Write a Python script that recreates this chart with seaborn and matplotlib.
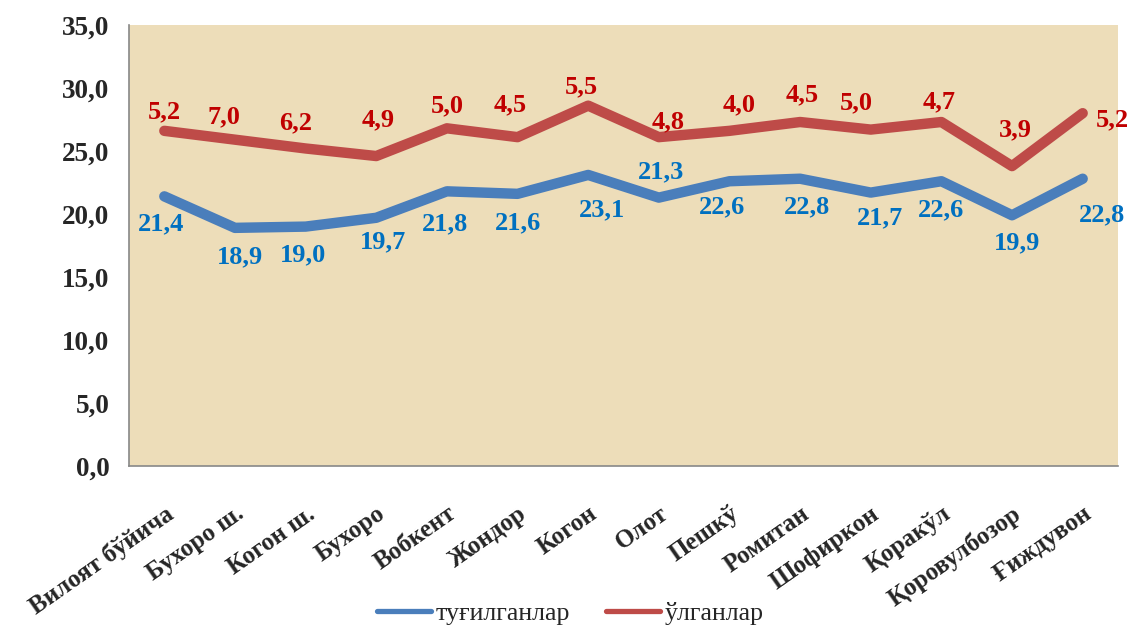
import matplotlib
matplotlib.use("Agg")
import matplotlib.pyplot as plt
import numpy as np
import pandas as pd
import seaborn as sns

districts = ["Вилоят бўйича", "Бухоро ш.", "Когон ш.", "Бухоро", "Вобкент", "Жондор", "Когон",
             "Олот", "Пешкў", "Ромитан", "Шофиркон", "Қоракўл", "Қоровулбозор", "Ғиждувон"]
births = [21.4, 18.9, 19.0, 19.7, 21.8, 21.6, 23.1, 21.3, 22.6, 22.8, 21.7, 22.6, 19.9, 22.8]
deaths = [5.2, 7.0, 6.2, 4.9, 5.0, 4.5, 5.5, 4.8, 4.0, 4.5, 5.0, 4.7, 3.9, 5.2]

# label offsets in pixels (dx, dy down)
births_off = [(-3, 27), (5, 29), (-3, 28), (7, 24), (-2, 32), (0, 29), (14, 35), (2, -26),
              (-7, 26), (7, 28), (9, 25), (0, 29), (5, 28), (19, 36)]
deaths_off = [(0, -19), (-11, -23), (-10, -26), (2, -36), (0, -23), (-7, -32), (-7, -19), (9, -15),
              (10, -26), (2, -27), (-14, -27), (-2, -20), (3, -36), (30, 7)]

df = pd.DataFrame({"x": np.arange(len(districts)), "births": births, "deaths": deaths})
df["stacked"] = df["births"] + df["deaths"]

sns.set_style("white")
plt.rcParams["font.family"] = ["Liberation Serif", "DejaVu Serif"]

fig = plt.figure(figsize=(11.33, 6.26), dpi=100)
ax = fig.add_axes([129 / 1133, 1 - 466 / 626, (1118 - 129) / 1133, (466 - 25) / 626])
ax.set_facecolor("#EDDDB9")

blue_line = "#4A7EBB"
red_line = "#BE4B48"
sns.lineplot(data=df, x="x", y="births", ax=ax, color=blue_line, linewidth=7.5,
             solid_capstyle="round", solid_joinstyle="round", label="туғилганлар")
sns.lineplot(data=df, x="x", y="stacked", ax=ax, color=red_line, linewidth=7.5,
             solid_capstyle="round", solid_joinstyle="round", label="ўлганлар")

fmt = lambda v: f"{v:.1f}".replace(".", ",")
for i, row in df.iterrows():
    dx, dy = births_off[i]
    ax.annotate(fmt(row["births"]), (row["x"], row["births"]), xytext=(dx, -dy),
                textcoords="offset pixels", ha="center", va="center",
                fontsize=19, fontweight="bold", color="#0070C0")
    dx, dy = deaths_off[i]
    ax.annotate(fmt(row["deaths"]), (row["x"], row["stacked"]), xytext=(dx, -dy),
                textcoords="offset pixels", ha="center", va="center",
                fontsize=19, fontweight="bold", color="#C00000")

ax.set_xlim(-0.5, len(districts) - 0.5)
ax.set_ylim(0, 35)
ax.set_yticks(np.arange(0, 36, 5))
ax.set_yticklabels([fmt(v) for v in np.arange(0, 36, 5)], fontsize=19.5, fontweight="bold")
ax.set_xticks(df["x"])
ax.set_xticklabels(districts, rotation=35, ha="right", rotation_mode="anchor",
                   fontsize=18, fontweight="bold")
ax.set_xticks(np.arange(-0.5, len(districts), 1), minor=True)
ax.tick_params(axis="x", which="major", length=0, pad=26)
ax.tick_params(axis="x", which="minor", length=6, color="#888888", width=1.2)
ax.tick_params(axis="y", length=6, color="#888888", width=1.2, pad=8)
ax.set_xlabel("")
ax.set_ylabel("")

for side in ["top", "right"]:
    ax.spines[side].set_visible(False)
for side in ["left", "bottom"]:
    ax.spines[side].set_color("#888888")
    ax.spines[side].set_linewidth(1.2)

handles, labels = ax.get_legend_handles_labels()
ax.get_legend().remove()
leg = fig.legend(handles, labels, loc="center", bbox_to_anchor=(570 / 1133, 1 - 613 / 626),
                 ncol=2, frameon=False, fontsize=18.7, handlelength=2.1, columnspacing=1.4,
                 handletextpad=0.15, borderaxespad=0)
for h in leg.get_lines():
    h.set_linewidth(3.8)

fig.savefig("out.png", dpi=100)
